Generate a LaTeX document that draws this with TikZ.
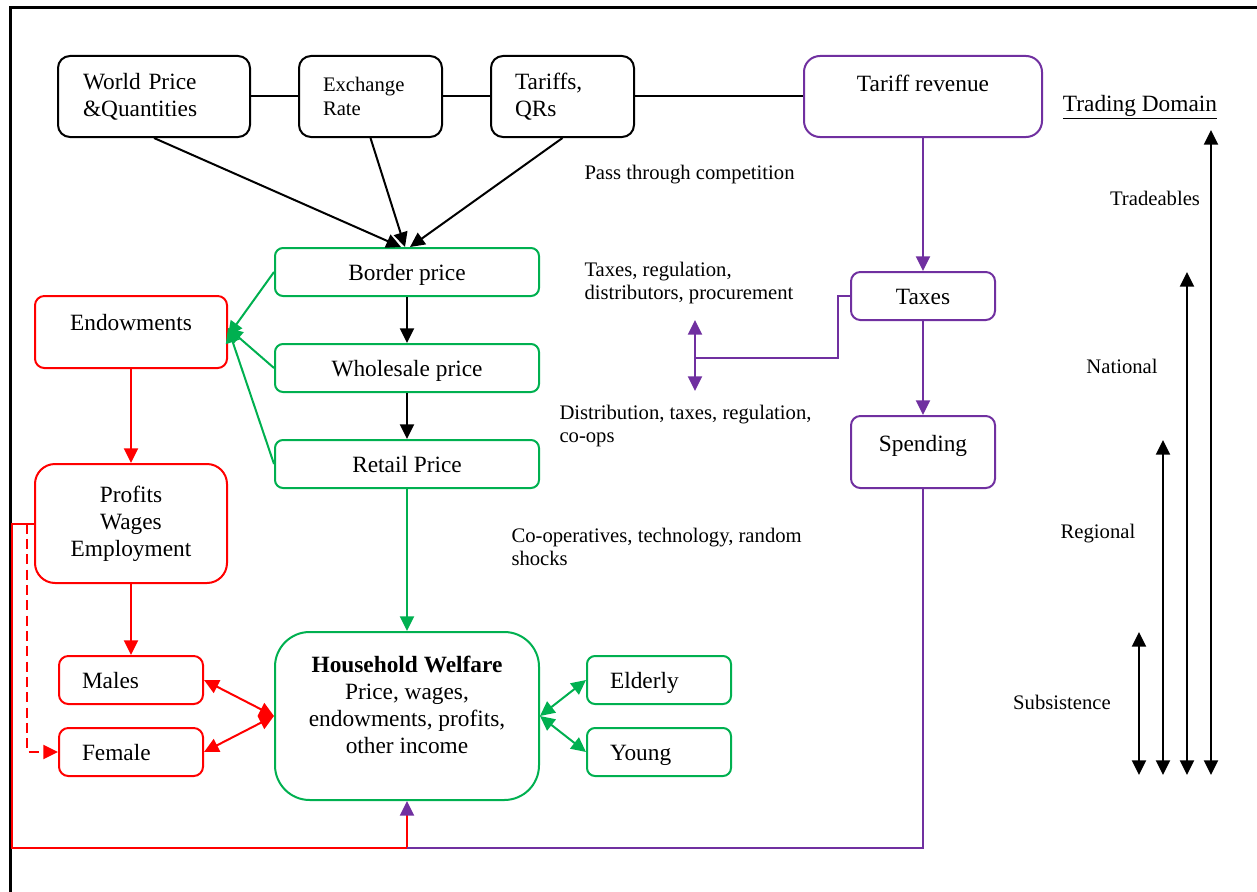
\documentclass[tikz,border=0pt]{standalone}
\usepackage{fontspec}
\setmainfont{Liberation Serif}
\usetikzlibrary{arrows.meta}

\definecolor{hwgreen}{RGB}{0,176,80}
\definecolor{hwred}{RGB}{255,0,0}
\definecolor{hwpurple}{RGB}{112,48,160}

\tikzset{every picture/.style={line width=0.75pt}}
\tikzset{
  >={Triangle[length=11pt,width=10.5pt]},
  boxfont/.style={font=\fontsize{17.5}{20.25}\selectfont},
  oneline/.style={text height=16pt, text depth=4pt},
  blkbox/.style={draw, line width=1.5pt, rounded corners=9pt, minimum height=60.75pt, boxfont, align=left},
  grnbox/.style={draw=hwgreen, line width=1.5pt, rounded corners=6pt, minimum width=198pt, minimum height=36pt, boxfont, align=center},
  redbox/.style={draw=hwred, line width=1.5pt, rounded corners=7pt, boxfont, align=center},
  purbox/.style={draw=hwpurple, line width=1.5pt, rounded corners=7pt, boxfont, align=center},
  smallbox/.style={minimum width=108pt, minimum height=36pt, text width=73.5pt, inner xsep=17.25pt, align=left, oneline},
  blkline/.style={line width=1.5pt},
  grnline/.style={draw=hwgreen, line width=1.5pt},
  redline/.style={draw=hwred, line width=1.5pt},
  purline/.style={draw=hwpurple, line width=1.5pt},
  lbl/.style={anchor=west, inner sep=0.75pt, align=left, font=\fontsize{15.5}{17.25}\selectfont},
  domlbl/.style={inner sep=0.75pt, font=\fontsize{15.5}{17.25}\selectfont},
}

\begin{document}
\begin{tikzpicture}[x=0.75pt,y=0.75pt,yscale=-1,xscale=1]
\useasboundingbox (0,0) rectangle (1257,892);

%Frame
\draw [line width=2.25pt] (10,892) -- (10,8) -- (1257,8);

% Top row
\node [blkbox, minimum width=144pt, text width=106.5pt, inner xsep=18.75pt] (world) at (154,96.5) {World Price\\\&Quantities};
\node [blkbox, minimum width=107.25pt, text width=71.25pt, inner xsep=18pt, font=\fontsize{15.5}{18}\selectfont] (exch) at (370.5,96.5) {Exchange\\Rate};
\node [blkbox, minimum width=107.25pt, text width=71.25pt, inner xsep=18pt] (tariffs) at (562.5,96.5) {Tariffs,\\QRs};
\node [purbox, minimum width=178.5pt, minimum height=60.75pt, rounded corners=12pt] (rev) at (923,96.5) {Tariff revenue\\[-1pt]\mbox{}};

% Price chain
\node [grnbox, oneline] (border) at (407,272) {Border price};
\node [grnbox, oneline] (wholesale) at (407,368) {Wholesale price};
\node [grnbox, oneline] (retail) at (407,464) {Retail Price};
\node [grnbox, minimum height=126pt, rounded corners=26pt] (hw) at (407,716) {\textbf{Household Welfare}\\Price, wages,\\endowments, profits,\\other income\\[-3pt]\mbox{}};
\node [grnbox, smallbox] (elderly) at (659,680) {Elderly};
\node [grnbox, smallbox] (young) at (659,752) {Young};

% Factor side
\node [redbox, minimum width=144pt, minimum height=54pt] (endow) at (131,332) {Endowments\\[-6.5pt]\mbox{}};
\node [redbox, minimum width=144pt, minimum height=89.25pt, rounded corners=15pt] (profits) at (131,523.5) {Profits\\Wages\\Employment};
\node [redbox, smallbox] (males) at (131,680) {Males};
\node [redbox, smallbox] (female) at (131,752) {Female};

% Revenue side
\node [purbox, oneline, minimum width=108pt, minimum height=36pt] (taxes) at (923,296) {Taxes};
\node [purbox, minimum width=108pt, minimum height=54pt] (spending) at (923,452) {Spending\\[-8pt]\mbox{}};

%Straight Lines
\draw [blkline] (world) -- (exch);
\draw [blkline] (exch) -- (tariffs);
\draw [blkline] (tariffs) -- (rev);
\draw [blkline, ->] (world.south) -- ([xshift=-4.5pt]border.north);
\draw [blkline, ->] (exch.south) -- ([xshift=-1.5pt]border.north);
\draw [blkline, ->] (tariffs.south) -- ([xshift=2.25pt]border.north);
\draw [blkline, ->] (border) -- (wholesale);
\draw [blkline, ->] (wholesale) -- (retail);

\draw [grnline, ->] (border.west) -- ([yshift=3pt]endow.east);
\draw [grnline, ->] (wholesale.west) -- ([yshift=-3pt]endow.east);
\draw [grnline, ->] (retail.west) -- ([yshift=-3pt]endow.east);
\draw [grnline, ->] (retail) -- (hw);
\draw [grnline, <->] (hw.east) -- (elderly.west);
\draw [grnline, <->] (hw.east) -- (young.west);

\draw [redline, ->] (endow) -- (profits);
\draw [redline, ->] (profits) -- (males);
\draw [redline, <->] (males.east) -- (hw.west);
\draw [redline, <->] (female.east) -- (hw.west);

%Feedback loop
\coordinate (lcorner) at (12,848);
\coordinate (join) at (407,848);
\coordinate (dsplit) at (27,523.5);
\draw [redline] (profits.west) -| (lcorner) -- (join);
\draw [redline, -{Triangle[length=11pt,width=10.5pt,color=hwpurple]}] (join) -- (hw.south);
\draw [redline, dash pattern=on 7.5pt off 4pt, ->] (dsplit) |- (female.west);
\draw [purline] (spending.south) |- (join);

\draw [purline, ->] (rev) -- (taxes);
\draw [purline, ->] (taxes) -- (spending);
\coordinate (tup) at (695,320);
\coordinate (tmid) at (695,357.5);
\coordinate (tdown) at (695,391);
\draw [purline] (taxes.west) -- ++(-12,0) |- (tmid);
\draw [purline, <->] (tup) -- (tdown);

% Trading domain arrows
\foreach \i/\xx/\top in {1/1139/632, 2/1163/440, 3/1187/272, 4/1211/130} {
  \coordinate (dtop\i) at (\xx,\top);
  \coordinate (dbot\i) at (\xx,775);
  \draw [blkline, <->] (dtop\i) -- (dbot\i);
}

% Text Node
\node [lbl] (passlbl) at (583,175) {Pass through competition};
\node [lbl] (taxlbl) at (583,283.5) {Taxes, regulation,\\distributors, procurement};
\node [lbl] (distlbl) at (558,426.5) {Distribution, taxes, regulation,\\co-ops};
\node [lbl] (cooplbl) at (510,546.5) {Co-operatives, technology, random\\shocks};
\node [inner sep=0.75pt, boxfont] (domain) at (1140,107) {\underline{Trading Domain}};
\node [domlbl] (tradelbl) at (1155,198) {Tradeables};
\node [domlbl] (natlbl) at (1122,366) {National};
\node [domlbl] (reglbl) at (1098,534) {Regional};
\node [domlbl] (sublbl) at (1062,702) {Subsistence};

\end{tikzpicture}
\end{document}
